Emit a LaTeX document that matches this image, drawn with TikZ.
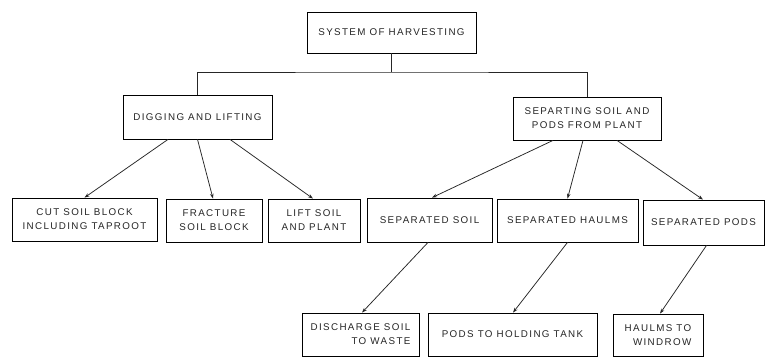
\documentclass[tikz,border=0pt]{standalone}
\usepackage{fontspec}
\setmainfont{Liberation Sans}[LetterSpace=14]
\usetikzlibrary{arrows.meta}
\tikzset{
  box/.style={draw, line width=0.8bp, rectangle, inner sep=0pt, align=center,
    font=\fontsize{9.8bp}{14bp}\selectfont, text=black!85},
  conn/.style={line width=0.75bp, draw=black!85},
  arr/.style={conn, -{Stealth[length=5bp,width=3.5bp]}}
}
\begin{document}
\begin{tikzpicture}[x=1bp,y=-1bp]
\useasboundingbox[fill=white] (0,0) rectangle (766,357);
% level 0
\node[box, minimum width=169bp, minimum height=41bp] (top) at (391.5,32.5) {SYSTEM OF HARVESTING};
% level 1
\node[box, minimum width=149bp, minimum height=44bp] (dig) at (197.5,117) {DIGGING AND LIFTING};
\node[box, minimum width=148bp, minimum height=43bp] (sep) at (587,118.5) {SEPARTING SOIL AND\\PODS FROM PLANT};
% level 2
\node[box, minimum width=145bp, minimum height=43bp] (cut) at (84.5,219.5) {CUT SOIL BLOCK\\INCLUDING TAPROOT};
\node[box, minimum width=96bp, minimum height=43bp] (frac) at (214,220.5) {FRACTURE\\SOIL BLOCK};
\node[box, minimum width=92bp, minimum height=43bp] (lift) at (314,220.5) {LIFT SOIL\\AND PLANT};
\node[box, minimum width=125bp, minimum height=44bp] (ssoil) at (429.5,220) {SEPARATED SOIL};
\node[box, minimum width=141bp, minimum height=43bp] (shaul) at (567.5,220.5) {SEPARATED HAULMS};
\node[box, minimum width=121bp, minimum height=45bp] (spods) at (703.5,222.5) {SEPARATED PODS};
% level 3
\node[box, align=right, minimum width=117bp, minimum height=43bp] (disc) at (360.5,334.5) {DISCHARGE SOIL\\TO WASTE};
\node[box, minimum width=169bp, minimum height=43bp] (ptank) at (512.5,334.5) {PODS TO HOLDING TANK};
\node[box, align=right, minimum width=90bp, minimum height=42bp] (haul) at (658,335) {HAULMS TO\\WINDROW};
% tree connectors
\coordinate (j) at (391.5,72);
\draw[conn] (top.south) -- (j);
\draw[conn] (dig.north) |- (j) -| (sep.north);
% arrows from digging
\draw[arr] ([xshift=-29.5bp]dig.south) -- (cut.north);
\draw[arr] (dig.south) -- ([xshift=-1bp]frac.north);
\draw[arr] ([xshift=32.5bp]dig.south) -- ([xshift=-1bp]lift.north);
% arrows from separting
\draw[arr] ([xshift=-34bp]sep.south) -- ([xshift=2.5bp]ssoil.north);
\draw[arr] ([xshift=-4bp]sep.south) -- (shaul.north);
\draw[arr] ([xshift=30bp]sep.south) -- ([xshift=-0.5bp]spods.north);
% arrows to level 3
\draw[arr] ([xshift=-1.5bp]ssoil.south) -- ([xshift=1.5bp]disc.north);
\draw[arr] (shaul.south) -- ([xshift=0.5bp]ptank.north);
\draw[arr] ([xshift=3bp]spods.south) -- ([xshift=2bp]haul.north);
\end{tikzpicture}
\end{document}
